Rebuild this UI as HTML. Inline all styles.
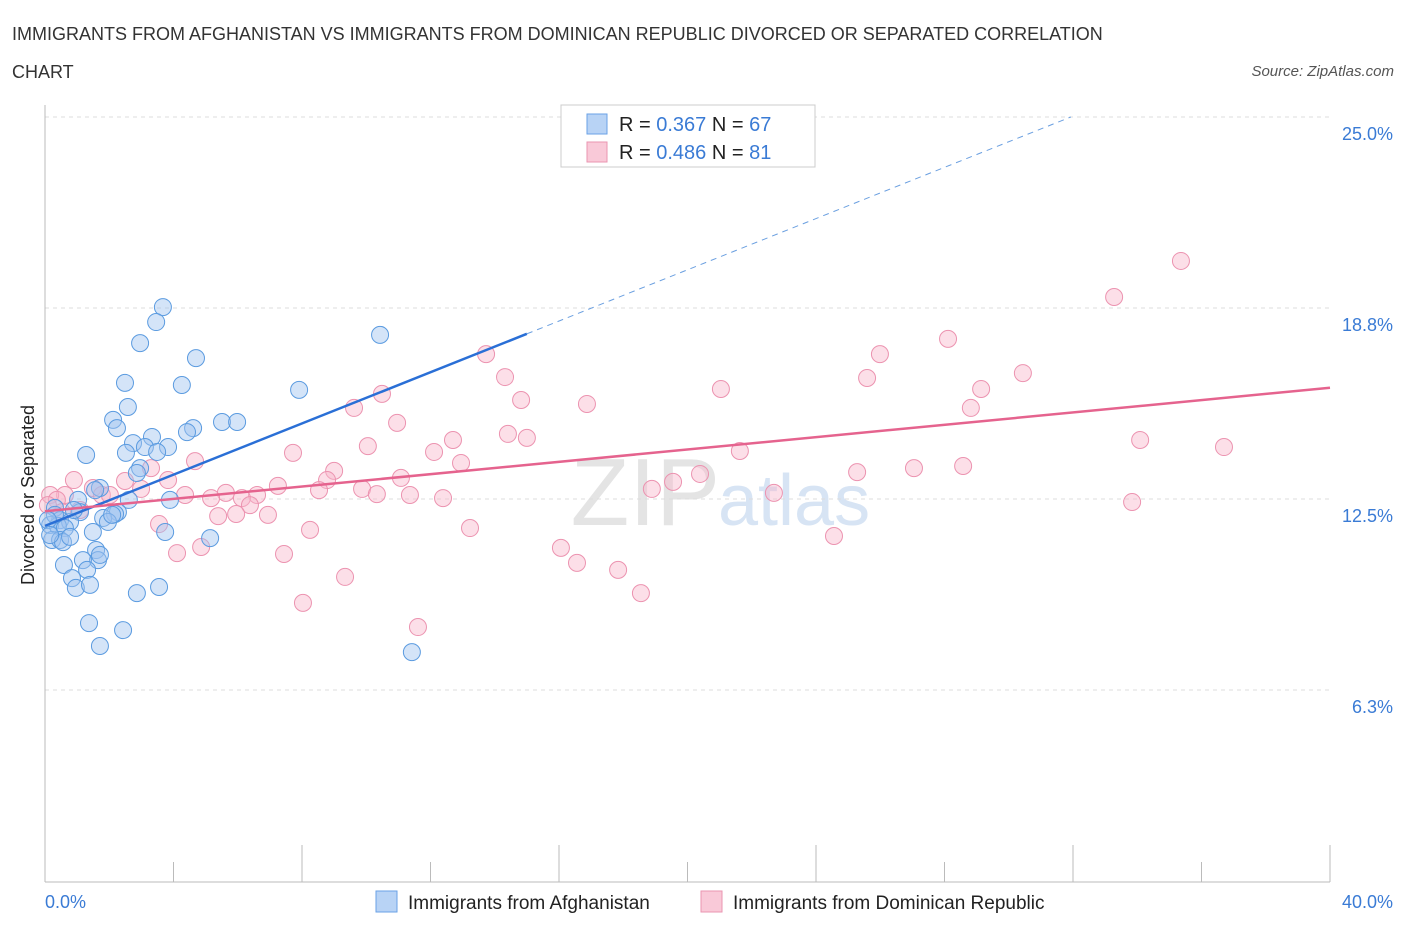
<!DOCTYPE html>
<html><head><meta charset="utf-8"><style>
body{margin:0;background:#fff;font-family:"Liberation Sans",sans-serif}
svg text{font-family:"Liberation Sans",sans-serif}
</style></head><body>
<svg id="c" width="1406" height="930">
<text x="12" y="40" font-size="18" fill="#333">IMMIGRANTS FROM AFGHANISTAN VS IMMIGRANTS FROM DOMINICAN REPUBLIC DIVORCED OR SEPARATED CORRELATION</text>
<text x="12" y="78" font-size="18" fill="#333">CHART</text>
<text x="1394" y="76" font-size="15" fill="#555" font-style="italic" text-anchor="end">Source: ZipAtlas.com</text>
<text x="720" y="525" font-size="96" fill="#e4e4e4" text-anchor="end" font-family="Liberation Serif">ZIP</text>
<text x="718" y="525" font-size="72" fill="#d7e4f4">atlas</text>
<g id="grid"></g><g id="pts"></g><g id="trend"></g>
<text x="34" y="495" font-size="18" fill="#222" text-anchor="middle" transform="rotate(-90 34 495)">Divorced or Separated</text>
<rect x="561" y="105" width="254" height="62" fill="#fff" stroke="#ccc"/>
<rect x="587" y="114" width="20" height="20" fill="#b8d3f5" stroke="#6aa2e6"/>
<text x="619" y="131" font-size="20" fill="#222">R = <tspan fill="#3a7bd5">0.367</tspan>   N = <tspan fill="#3a7bd5">67</tspan></text>
<rect x="587" y="142" width="20" height="20" fill="#f9c9d8" stroke="#ea95b1"/>
<text x="619" y="159" font-size="20" fill="#222">R = <tspan fill="#3a7bd5">0.486</tspan>   N = <tspan fill="#3a7bd5">81</tspan></text>
<rect x="376" y="891" width="21" height="21" fill="#b8d3f5" stroke="#6aa2e6"/>
<text x="408" y="909" font-size="19" fill="#222">Immigrants from Afghanistan</text>
<rect x="701" y="891" width="21" height="21" fill="#f9c9d8" stroke="#ea95b1"/>
<text x="733" y="909" font-size="19" fill="#222">Immigrants from Dominican Republic</text>
</svg>
<script>
const xTicks=[0,4,8,12,16,20,24,28,32,36,40];
const yTicks=[6.25,12.5,18.75,25];
const yTickLabels=["6.3%","12.5%","18.8%","25.0%"];
const afgX=[3.67,3.46,2.96,4.70,2.49,4.26,2.58,2.12,2.24,5.51,5.98,4.61,4.42,3.33,2.74,3.11,3.83,3.49,2.52,1.28,2.96,2.86,3.89,2.61,10.43,7.91,1.71,1.56,1.03,1.09,2.27,2.18,0.31,0.47,1.81,1.96,0.78,0.16,0.40,0.62,1.49,0.22,0.47,0.56,0.78,3.74,5.14,1.59,1.65,1.18,0.59,1.31,0.84,0.96,1.40,3.55,2.86,1.37,2.43,1.71,11.42,0.31,0.09,0.90,2.09,0.16,1.71];
const afgY=[18.78,18.29,17.60,17.11,16.30,16.23,15.51,15.09,14.82,15.02,15.02,14.82,14.69,14.53,14.33,14.20,14.20,14.04,14.01,13.94,13.51,13.35,12.47,12.47,17.87,16.07,12.86,12.79,12.47,12.07,12.07,12.01,12.21,11.81,11.88,11.75,11.75,11.65,11.62,11.55,11.42,11.16,11.16,11.09,11.26,11.42,11.22,10.83,10.50,10.50,10.34,10.18,9.91,9.59,9.69,9.62,9.42,8.44,8.21,7.69,7.49,11.98,11.81,12.14,11.98,11.32,10.67];
const domX=[35.36,33.28,28.11,25.99,13.73,25.59,14.32,30.44,21.04,29.14,10.49,14.82,16.87,9.62,28.82,10.96,14.41,15.00,12.70,10.05,34.09,36.70,21.63,7.72,12.11,12.95,4.67,3.30,9.00,11.08,25.28,27.05,28.58,20.39,19.55,8.78,3.83,0.90,2.49,2.99,7.25,1.49,8.53,9.87,5.63,4.36,5.17,6.60,6.13,11.36,12.39,10.33,22.69,18.89,1.77,2.02,0.62,0.16,0.37,33.84,6.38,5.95,6.94,5.39,1.09,3.55,8.25,13.23,24.56,16.06,4.86,4.11,7.44,16.56,17.84,9.34,18.55,8.03,11.61,0.53,0.09];
const domY=[20.29,19.11,17.74,17.24,17.24,16.46,16.49,16.62,16.10,16.10,15.94,15.74,15.61,15.48,15.48,14.99,14.63,14.50,14.43,14.23,14.43,14.20,14.07,14.01,14.04,13.68,13.74,13.51,13.42,13.19,13.38,13.51,13.58,13.32,13.06,13.12,13.12,13.12,13.09,12.83,12.93,12.86,12.79,12.83,12.70,12.63,12.53,12.63,12.53,12.63,12.53,12.66,12.70,12.83,12.63,12.63,12.63,12.63,12.47,12.40,12.30,12.01,11.98,11.94,12.14,11.68,11.49,11.55,11.29,10.90,10.93,10.73,10.70,10.41,10.18,9.95,9.42,9.10,8.31,12.07,12.30];
const afgTrend=[11.62,0.419];
const domTrend=[12.1,0.101];
const NS='http://www.w3.org/2000/svg';
const X=v=>45+v/40*1285, Y=v=>881-v/25*764;
function mk(t,a,p){const e=document.createElementNS(NS,t);for(const k in a)e.setAttribute(k,a[k]);p.appendChild(e);return e;}
const grid=document.getElementById('grid'),pts=document.getElementById('pts'),tr=document.getElementById('trend');
yTicks.forEach((v,i)=>{
 const l=mk('line',{x1:45,x2:1330,y1:Y(v),y2:Y(v),stroke:'#ddd','stroke-dasharray':'4,4'},grid);
 
 
 const t=mk('text',{x:1393,y:Y(v)+23,'font-size':18,fill:'#3a7bd5','text-anchor':'end'},grid);t.textContent=yTickLabels[i];
 
 
});
const ax=mk('line',{x1:45,x2:45,y1:105,y2:882,stroke:'#bbb'},grid);


const bx=mk('line',{x1:45,x2:1330,y1:882,y2:882,stroke:'#bbb'},grid);


xTicks.forEach(v=>{const l=mk('line',{x1:X(v),x2:X(v),y1:v%8==0?845:862,y2:882,stroke:'#bbb'},grid);
 
 });
const xl0=mk('text',{x:45,y:908,'font-size':18,fill:'#3a7bd5'},grid);xl0.textContent='0.0%';


const xl1=mk('text',{x:1393,y:908,'font-size':18,fill:'#3a7bd5','text-anchor':'end'},grid);xl1.textContent='40.0%';


domX.forEach((v,i)=>{const c=mk('circle',{cx:X(v),cy:Y(domY[i]),r:8.5,fill:'rgba(248,185,205,0.45)',stroke:'#ec93b0','stroke-width':1},pts);
 
 });
afgX.forEach((v,i)=>{const c=mk('circle',{cx:X(v),cy:Y(afgY[i]),r:8.5,fill:'rgba(160,196,240,0.45)',stroke:'#5b9be0','stroke-width':1},pts);
 
 });
const bEnd=15,bDash=(25-afgTrend[0])/afgTrend[1];
const l1=mk('line',{x1:X(0),y1:Y(afgTrend[0]),x2:X(bEnd),y2:Y(afgTrend[0]+afgTrend[1]*bEnd),stroke:'#2a6fd6','stroke-width':2.5},tr);


const l2=mk('line',{x1:X(bEnd),y1:Y(afgTrend[0]+afgTrend[1]*bEnd),x2:X(bDash),y2:Y(25),stroke:'#6a9fe0','stroke-width':1,'stroke-dasharray':'6,5'},tr);


const l3=mk('line',{x1:X(0),y1:Y(domTrend[0]),x2:X(40),y2:Y(domTrend[0]+domTrend[1]*40),stroke:'#e5638e','stroke-width':2.5},tr);


</script>
</body></html>
